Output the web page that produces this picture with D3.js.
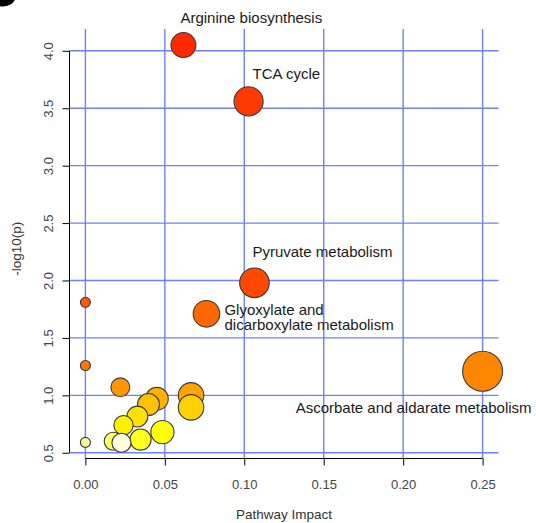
<!DOCTYPE html>
<html><head><meta charset="utf-8">
<script src="https://cdn.jsdelivr.net/npm/d3@7"></script>
<style>
body{margin:0;background:#fff}
svg{display:block;background:#fff}
text{font-family:"Liberation Sans",Arial,Helvetica,sans-serif}
</style>
</head><body>
<svg id="chart" width="536" height="523"></svg>
<script>
// ---- data ----
const pathways = [
  "Arginine biosynthesis", "TCA cycle", "Pyruvate metabolism", "",
  "Glyoxylate and\ndicarboxylate metabolism", "", "Ascorbate and aldarate metabolism",
  "", "", "", "", "", "", "", "", "", "", "", ""
];
const impact = [0.0617, 0.1027, 0.1064, 0.0, 0.0762, 0.0, 0.25, 0.022, 0.0665, 0.045,
                0.0397, 0.0665, 0.0327, 0.024, 0.0485, 0.0347, 0.0175, 0.0, 0.0227];
const logP   = [4.05, 3.56, 1.98, 1.81, 1.71, 1.26, 1.21, 1.07, 1.00, 0.97,
                0.92, 0.895, 0.815, 0.74, 0.68, 0.615, 0.60, 0.59, 0.587];
const xTicks = [0, 0.05, 0.10, 0.15, 0.20, 0.25];
const yTicks = [0.5, 1.0, 1.5, 2.0, 2.5, 3.0, 3.5, 4.0];

// ---- layout / style ----
const svg = d3.select("#chart");
const x = d3.scaleLinear().domain([-0.01, 0.26]).range([69.5, 498.5]);
const y = d3.scaleLinear().domain([0.45, 4.19]).range([458.5, 29]);
const r = d3.scaleSqrt().domain([0, 0.25]).range([5, 20]);
const gridColor = "#7080f6";

const n = impact.length;
const nj = Math.floor(n / 4), ni = n - nj;
const hue = d3.scaleLinear().domain([1, ni]).range([10, 60]);
const satYellow = d3.scaleLinear().domain([ni + 1, n]).range([1 - 1 / (2 * nj), 1 / (2 * nj)]);
function heat(rank) {
  if (rank <= ni) return d3.hsl(hue(rank), 1, 0.5).formatHex();
  return d3.interpolateRgb("#ffff00", "#ffffff")(1 - satYellow(rank));
}

const data = impact.map((v, i) => ({name: pathways[i], impact: v, logp: logP[i]}));
const order = d3.range(n).sort((a, b) => data[b].logp - data[a].logp);
order.forEach((idx, k) => data[idx].rank = k + 1);

// panel letter fragment at top-left
svg.append("ellipse").attr("cx", 3).attr("cy", -2).attr("rx", 12).attr("ry", 8.5).attr("fill", "#000");

// grid
svg.append("g").selectAll("line").data(xTicks).join("line")
  .attr("x1", d => x(d)).attr("x2", d => x(d))
  .attr("y1", y.range()[1]).attr("y2", y.range()[0])
  .attr("stroke", gridColor).attr("stroke-width", 1.4);
svg.append("g").selectAll("line").data(yTicks).join("line")
  .attr("x1", x.range()[0]).attr("x2", x.range()[1])
  .attr("y1", d => y(d)).attr("y2", d => y(d))
  .attr("stroke", gridColor).attr("stroke-width", 1.4);

// axes
const xAxis = svg.append("g").attr("transform", `translate(0,${y.range()[0]})`)
  .call(d3.axisBottom(x).tickValues(xTicks).tickSize(7).tickSizeOuter(0).tickFormat(d3.format(".2f")));
xAxis.select(".domain").remove();
xAxis.append("line").attr("x1", x(xTicks[0])).attr("x2", x(xTicks[xTicks.length - 1]))
  .attr("stroke", "#000").attr("stroke-width", 1);
xAxis.selectAll(".tick line").attr("stroke", "#000");
xAxis.selectAll(".tick text").attr("y", 30).attr("dy", 0)
  .attr("fill", "#444").style("font-size", "13px").style("font-family", '"Liberation Sans",Arial,sans-serif');

const yAxis = svg.append("g").attr("transform", `translate(${x.range()[0]},0)`)
  .call(d3.axisLeft(y).tickValues(yTicks).tickSize(7).tickSizeOuter(0).tickFormat(d3.format(".1f")));
yAxis.select(".domain").remove();
yAxis.append("line").attr("y1", y(yTicks[0])).attr("y2", y(yTicks[yTicks.length - 1]))
  .attr("stroke", "#000").attr("stroke-width", 1);
yAxis.selectAll(".tick line").attr("stroke", "#000");
yAxis.selectAll(".tick text")
  .attr("transform", "rotate(-90)").attr("x", 0).attr("y", -21.5).attr("dy", "0.35em")
  .attr("text-anchor", "middle")
  .attr("fill", "#444").style("font-size", "13px").style("font-family", '"Liberation Sans",Arial,sans-serif');

// axis titles
svg.append("text").attr("x", (x(0) + x(0.25)) / 2).attr("y", 519)
  .attr("text-anchor", "middle").attr("fill", "#333").style("font-size", "13.5px")
  .text("Pathway Impact");
svg.append("text").attr("transform", `translate(16,${(y.range()[0] + y.range()[1]) / 2 + 5}) rotate(-90)`)
  .attr("text-anchor", "middle").attr("dy", "0.35em").attr("fill", "#333").style("font-size", "13.5px")
  .text("-log10(p)");

// bubbles (drawn in order of decreasing significance)
svg.append("g").selectAll("circle").data(order.map(i => data[i])).join("circle")
  .attr("cx", d => x(d.impact)).attr("cy", d => y(d.logp)).attr("r", d => r(d.impact))
  .attr("fill", d => heat(d.rank)).attr("stroke", "#3a3a3a").attr("stroke-width", 1.1);

// labels
const labelStyle = {
  0: {dx: -3, dy: -22, anchor: "start"},
  1: {dx: 4, dy: -22, anchor: "start"},
  2: {dx: -2, dy: -26, anchor: "start"},
  4: {dx: 18, dy: 1, anchor: "start"},
  6: {dx: -69, dy: 42, anchor: "middle"}
};
const lab = svg.append("g");
data.forEach((d, i) => {
  if (!d.name) return;
  const s = labelStyle[i];
  const t = lab.append("text")
    .attr("x", x(d.impact) + s.dx).attr("y", y(d.logp) + s.dy)
    .attr("text-anchor", s.anchor).attr("fill", "#1a1a1a").style("font-size", "15px");
  d.name.split("\n").forEach((line, k) => {
    t.append("tspan").attr("x", x(d.impact) + s.dx).attr("dy", k === 0 ? 0 : 15.5).text(line);
  });
});
</script>
</body></html>
